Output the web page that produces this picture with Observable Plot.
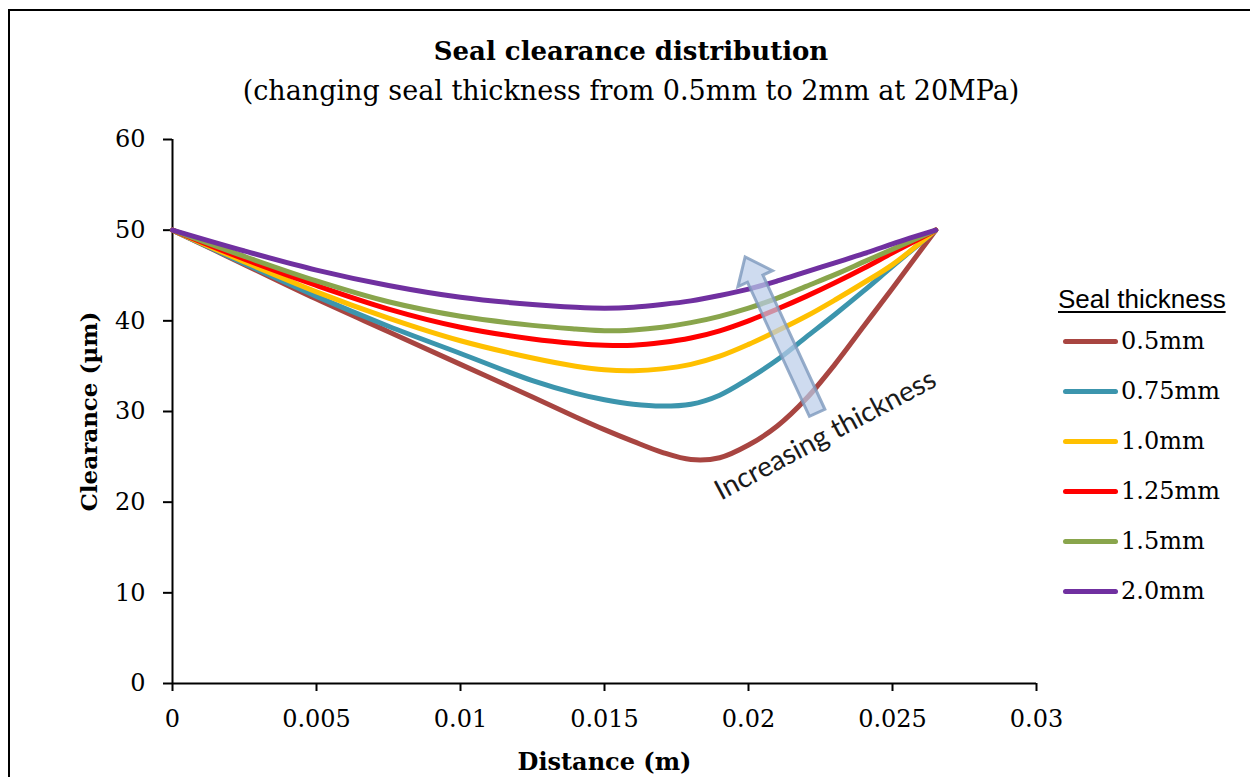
<!DOCTYPE html>
<html>
<head>
<meta charset="utf-8">
<script src="https://cdn.jsdelivr.net/npm/d3@7"></script>
<script src="https://cdn.jsdelivr.net/npm/@observablehq/plot@0.6"></script>
<style>
  html, body { margin: 0; padding: 0; background: #fff; overflow: hidden; }
  #wrap { position: relative; width: 1250px; height: 777px; }
  #border { position: absolute; left: 8px; top: 9px; width: 1400px; height: 1000px;
            border-left: 2px solid #000; border-top: 2px solid #000; pointer-events: none; }
  #head { position: relative; height: 120px; }
  .ttl { position: absolute; left: 0; width: 1262px; text-align: center; white-space: nowrap;
         font-family: "DejaVu Serif", serif; color: #000; line-height: 32px; }
  #title { top: 35px; font-size: 26px; font-weight: bold; }
  #subtitle { top: 75px; font-size: 27px; }
  #legend { position: absolute; left: 0; top: 0; }
  .lg-title { position: absolute; left: 1058px; top: 284px; font-family: "Liberation Sans", Arial, sans-serif;
              font-size: 26px; line-height: 30px; text-decoration: underline; text-underline-offset: 3px;
              text-decoration-thickness: 2px; white-space: nowrap; color: #000; }
  .lg-row { position: absolute; left: 1063px; height: 30px; display: flex; align-items: center; white-space: nowrap; }
  .lg-sw { width: 55px; height: 5px; border-radius: 3px; margin-right: 3px; }
  .lg-lab { font-family: "DejaVu Serif", serif; font-size: 24px; line-height: 30px; color: #000; }
  svg { display: block; }
</style>
</head>
<body>
<div id="wrap">
  <div id="head">
    <div class="ttl" id="title">Seal clearance distribution</div>
    <div class="ttl" id="subtitle">(changing seal thickness from 0.5mm to 2mm at 20MPa)</div>
  </div>
  <div id="chart"></div>
  <div id="legend"></div>
  <div id="border"></div>
</div>
<script>
// ---- data ----
const distance = [0, 0.0025, 0.005, 0.0075, 0.01, 0.0125, 0.014, 0.015, 0.016, 0.017, 0.018, 0.019, 0.02, 0.021, 0.022, 0.023, 0.024, 0.025, 0.0265];
const seal050 = [50, 46.2, 42.4, 38.8, 35.2, 31.6, 29.4, 28.0, 26.7, 25.5, 24.7, 24.9, 26.3, 28.4, 31.4, 35.2, 39.4, 43.6, 50];
const seal075 = [50, 46.3, 42.7, 39.4, 36.4, 33.4, 32.0, 31.3, 30.8, 30.6, 30.8, 31.8, 33.6, 35.7, 38.2, 40.7, 43.3, 46.0, 50];
const seal100 = [50, 46.5, 43.2, 40.3, 37.8, 35.9, 35.0, 34.6, 34.5, 34.7, 35.2, 36.1, 37.4, 38.9, 40.5, 42.3, 44.2, 46.2, 50];
const seal125 = [50, 46.8, 43.9, 41.3, 39.3, 38.0, 37.5, 37.3, 37.3, 37.6, 38.1, 38.9, 40.0, 41.3, 42.7, 44.2, 45.8, 47.5, 50];
const seal150 = [50, 47.1, 44.4, 42.1, 40.5, 39.5, 39.1, 38.9, 39.0, 39.3, 39.8, 40.5, 41.4, 42.5, 43.8, 45.1, 46.5, 47.9, 50];
const seal200 = [50, 47.7, 45.6, 43.9, 42.6, 41.8, 41.5, 41.4, 41.5, 41.8, 42.2, 42.8, 43.5, 44.4, 45.4, 46.4, 47.4, 48.5, 50];
const seriesNames = ["0.5mm", "0.75mm", "1.0mm", "1.25mm", "1.5mm", "2.0mm"];
const seriesColors = ["#A84541", "#3C95AD", "#FFC000", "#FF0000", "#89A54C", "#7030A0"];
const xTicks = [0, 0.005, 0.01, 0.015, 0.02, 0.025, 0.03];
const yTicks = [0, 10, 20, 30, 40, 50, 60];
const arrowTail = [0.0224, 29.8];
const arrowHead = [0.0199, 47.0];
const annotation = {x: 0.02267, y: 27.4, label: "Increasing thickness"};

// ---- build long table ----
const seriesValues = [seal050, seal075, seal100, seal125, seal150, seal200];
const rows = [];
seriesNames.forEach((name, i) => {
  distance.forEach((d, j) => rows.push({series: name, distance: d, clearance: seriesValues[i][j]}));
});

function blockArrow(index, scales) {
  const x1 = scales.x(arrowTail[0]), y1 = scales.y(arrowTail[1]);
  const x2 = scales.x(arrowHead[0]), y2 = scales.y(arrowHead[1]);
  const dx = x2 - x1, dy = y2 - y1, L = Math.hypot(dx, dy);
  const ux = dx / L, uy = dy / L, px = -uy, py = ux;
  const sw = 8.5, hw = 19, hl = 24;
  const bx = x2 - ux * hl, by = y2 - uy * hl;
  const pts = [
    [x1 + px * sw, y1 + py * sw], [bx + px * sw, by + py * sw], [bx + px * hw, by + py * hw],
    [x2, y2],
    [bx - px * hw, by - py * hw], [bx - px * sw, by - py * sw], [x1 - px * sw, y1 - py * sw]
  ];
  const path = d3.create("svg:path")
    .attr("d", "M" + pts.map(p => p.join(",")).join("L") + "Z")
    .attr("fill", "#b9cce8").attr("fill-opacity", 0.7)
    .attr("stroke", "#7d98bd").attr("stroke-opacity", 0.8).attr("stroke-width", 3)
    .attr("stroke-linejoin", "miter");
  return path.node();
}

const plot = Plot.plot({
  width: 1250,
  height: 657,
  marginLeft: 172,
  marginRight: 214,
  marginTop: 19,
  marginBottom: 94,
  x: {domain: [0, 0.03]},
  y: {domain: [0, 60]},
  color: {domain: seriesNames, range: seriesColors},
  style: {fontFamily: "DejaVu Serif, serif", fontSize: "24px", color: "#000", background: "transparent", overflow: "visible"},
  marks: [
    Plot.axisX({ticks: xTicks, tickFormat: d => String(d), tickSize: 8, tickPadding: 18, label: null, fontSize: 24, strokeWidth: 2}),
    Plot.axisY({ticks: yTicks, tickSize: 9, tickPadding: 18, label: null, fontSize: 24, strokeWidth: 2}),
    Plot.ruleY([0], {stroke: "#000", strokeWidth: 2}),
    Plot.ruleX([0], {stroke: "#000", strokeWidth: 2}),
    Plot.line(rows, {x: "distance", y: "clearance", z: "series", stroke: "series", strokeWidth: 5, curve: "catmull-rom", strokeLinecap: "round"}),
    blockArrow,
    Plot.text([annotation], {x: "x", y: "y", text: "label", rotate: -28, fontFamily: "Lato, sans-serif", fontSize: 28, fill: "#1a1a1a"}),
    Plot.text(["Distance (m)"], {text: d => d, frameAnchor: "bottom", dy: 79, lineAnchor: "middle", textAnchor: "middle", fontWeight: "bold", fontSize: 24}),
    Plot.text(["Clearance (µm)"], {text: d => d, frameAnchor: "left", dx: -83, rotate: -90, lineAnchor: "middle", textAnchor: "middle", fontWeight: "bold", fontSize: 23})
  ]
});
document.getElementById("chart").appendChild(plot);

// ---- legend ----
const legend = document.getElementById("legend");
const lt = document.createElement("div");
lt.className = "lg-title";
lt.textContent = "Seal thickness";
legend.appendChild(lt);
seriesNames.forEach((name, i) => {
  const row = document.createElement("div");
  row.className = "lg-row";
  row.style.top = (326 + 50 * i) + "px";
  const sw = document.createElement("div");
  sw.className = "lg-sw";
  sw.style.background = seriesColors[i];
  const lab = document.createElement("span");
  lab.className = "lg-lab";
  lab.textContent = name;
  row.appendChild(sw);
  row.appendChild(lab);
  legend.appendChild(row);
});
</script>
</body>
</html>
